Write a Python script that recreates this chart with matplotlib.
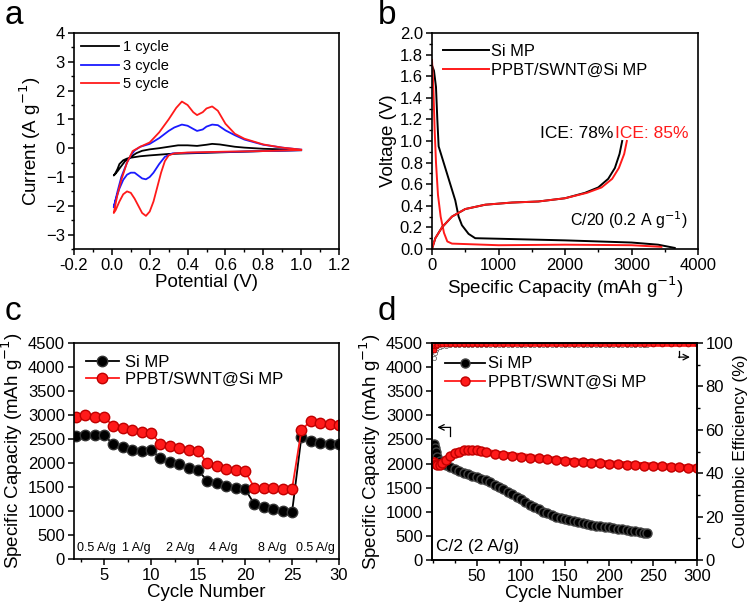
import matplotlib
matplotlib.use('Agg')
import matplotlib.pyplot as plt
from matplotlib.ticker import MultipleLocator

plt.rcParams['font.family'] = ['Liberation Sans', 'DejaVu Sans']
plt.rcParams['axes.linewidth'] = 1.2
plt.rcParams['xtick.major.width'] = 1.1
plt.rcParams['ytick.major.width'] = 1.1
plt.rcParams['xtick.minor.width'] = 1.0
plt.rcParams['ytick.minor.width'] = 1.0
plt.rcParams['xtick.major.size'] = 4.5
plt.rcParams['ytick.major.size'] = 4.5
plt.rcParams['xtick.minor.size'] = 2.5
plt.rcParams['ytick.minor.size'] = 2.5

# ---------- (a) CV curves: potential (V) / current (A g-1), closed loops ----------
cv1_v = [1.0, 0.8, 0.6, 0.4, 0.3, 0.2, 0.15, 0.1, 0.08, 0.06, 0.04, 0.03, 0.02, 0.01,
         0.02, 0.03, 0.05, 0.07, 0.1, 0.13, 0.16, 0.2, 0.25, 0.3, 0.35, 0.4, 0.45, 0.5,
         0.53, 0.57, 0.6, 0.65, 0.7, 0.8, 0.9, 1.0]
cv1_i = [-0.07, -0.1, -0.14, -0.18, -0.2, -0.25, -0.28, -0.33, -0.36, -0.42, -0.55, -0.72, -0.85, -0.95,
         -0.88, -0.8, -0.62, -0.45, -0.3, -0.17, -0.09, -0.04, 0.0, 0.05, 0.1, 0.1, 0.08, 0.12,
         0.15, 0.13, 0.1, 0.05, 0.02, -0.02, -0.04, -0.06]

cv3_v = [1.0, 0.8, 0.6, 0.4, 0.32, 0.28, 0.25, 0.22, 0.2, 0.18, 0.16, 0.14, 0.12, 0.1, 0.08,
         0.06, 0.04, 0.02, 0.01, 0.03, 0.05, 0.08, 0.1, 0.12, 0.15, 0.2, 0.25, 0.3, 0.33,
         0.37, 0.4, 0.43, 0.45, 0.48, 0.5, 0.53, 0.56, 0.6, 0.65, 0.7, 0.8, 0.9, 1.0]
cv3_i = [-0.07, -0.1, -0.13, -0.16, -0.18, -0.3, -0.55, -0.85, -1.0, -1.08, -1.05, -0.95, -0.85, -0.85, -0.92,
         -1.1, -1.4, -1.8, -2.05, -1.5, -1.0, -0.5, -0.25, -0.08, 0.05, 0.15, 0.35, 0.6, 0.72,
         0.82, 0.78, 0.67, 0.6, 0.65, 0.75, 0.82, 0.8, 0.62, 0.45, 0.3, 0.12, 0.02, -0.05]

cv5_v = [1.0, 0.8, 0.6, 0.4, 0.33, 0.3, 0.28, 0.26, 0.24, 0.22, 0.2, 0.18, 0.16, 0.14, 0.12,
         0.1, 0.08, 0.06, 0.04, 0.02, 0.01, 0.03, 0.05, 0.08, 0.11, 0.15, 0.2, 0.25, 0.3,
         0.34, 0.37, 0.4, 0.43, 0.45, 0.48, 0.5, 0.53, 0.56, 0.6, 0.65, 0.7, 0.8, 0.9, 1.0]
cv5_i = [-0.06, -0.1, -0.12, -0.15, -0.18, -0.25, -0.45, -0.85, -1.35, -1.85, -2.2, -2.35, -2.25, -2.0, -1.75,
         -1.55, -1.5, -1.6, -1.85, -2.15, -2.25, -1.6, -1.1, -0.5, -0.1, 0.05, 0.2, 0.55, 1.0,
         1.4, 1.62, 1.5, 1.25, 1.15, 1.25, 1.38, 1.45, 1.3, 0.85, 0.5, 0.33, 0.13, 0.02, -0.05]

# ---------- (b) first charge/discharge profiles ----------
si_dis_c = [0, 30, 60, 80, 100, 150, 250, 350, 400, 450, 550, 650, 1000, 2000, 3000, 3400, 3650]
si_dis_v = [1.7, 1.65, 1.5, 1.2, 0.95, 0.85, 0.65, 0.45, 0.3, 0.22, 0.14, 0.1, 0.095, 0.08, 0.06, 0.04, 0.01]
si_chg_c = [0, 50, 150, 300, 500, 800, 1200, 1600, 2000, 2300, 2500, 2650, 2750, 2820, 2860]
si_chg_v = [0.0, 0.1, 0.2, 0.3, 0.37, 0.41, 0.43, 0.44, 0.47, 0.52, 0.57, 0.65, 0.75, 0.88, 1.0]
pp_dis_c = [0, 20, 40, 60, 90, 130, 180, 230, 300, 1000, 2000, 3000, 3450]
pp_dis_v = [1.75, 1.5, 1.1, 0.8, 0.5, 0.3, 0.15, 0.07, 0.05, 0.035, 0.04, 0.035, 0.02]
pp_chg_c = [0, 50, 150, 300, 500, 800, 1200, 1600, 2000, 2330, 2550, 2710, 2810, 2890, 2930]
pp_chg_v = [0.0, 0.1, 0.2, 0.3, 0.37, 0.41, 0.43, 0.44, 0.47, 0.52, 0.57, 0.65, 0.75, 0.88, 1.0]

# ---------- (c) rate capability ----------
rate_cycles = list(range(2, 31))
rate_si = [2560, 2575, 2575, 2575, 2390, 2335, 2280, 2255, 2280,
           2095, 2025, 1975, 1900, 1850, 1625, 1575, 1525, 1485, 1455,
           1145, 1090, 1040, 1005, 970, 2545, 2460, 2420, 2405, 2390]
rate_pp = [2960, 3010, 2960, 2960, 2765, 2720, 2685, 2650, 2635,
           2390, 2360, 2315, 2280, 2255, 1990, 1935, 1885, 1850, 1830,
           1485, 1470, 1470, 1460, 1455, 2685, 2880, 2835, 2810, 2790]
rate_labels = ['0.5 A/g', '1 A/g', '2 A/g', '4 A/g', '8 A/g', '0.5 A/g']
rate_label_x = [4.2, 8.4, 13.1, 17.7, 22.9, 27.5]

# ---------- (d) long cycling at C/2 ----------
cyc_si = [1, 2, 3, 5, 8, 10, 15, 20, 25, 30, 35, 40, 45, 50, 55, 60, 65, 70, 75, 80, 85, 90, 95,
          100, 105, 110, 115, 120, 125, 130, 135, 140, 145, 150, 155, 160, 165, 170, 175, 180,
          185, 190, 195, 200, 205, 210, 215, 220, 225, 230, 235, 240, 243]
cap_si = [2400, 2330, 2250, 2130, 2050, 2020, 1970, 1930, 1890, 1850, 1810, 1775, 1750, 1730, 1690,
          1650, 1610, 1565, 1520, 1470, 1420, 1370, 1315, 1260, 1205, 1150, 1100, 1050, 1005,
          965, 930, 900, 870, 845, 820, 800, 780, 760, 745, 730, 715, 700, 688, 675, 660, 648,
          635, 622, 610, 595, 580, 565, 555]
cyc_pp = [1, 3, 5, 8, 10, 15, 20, 25, 30, 35, 40, 45, 50, 55, 60, 70, 80, 90, 100, 110, 120,
          130, 140, 150, 160, 170, 180, 190, 200, 210, 220, 230, 240, 250, 260, 270, 280, 290, 300]
cap_pp = [2040, 1990, 1960, 1980, 2010, 2080, 2150, 2210, 2250, 2275, 2285, 2285, 2275, 2260,
          2235, 2205, 2180, 2160, 2145, 2125, 2105, 2090, 2070, 2055, 2040, 2028, 2015, 2005,
          1995, 1985, 1975, 1965, 1958, 1950, 1940, 1930, 1920, 1912, 1905]
ce_si = [93.0, 95.5, 96.8, 97.8, 98.3, 98.6, 98.8, 98.9, 99.0, 99.0, 99.1, 99.1, 99.1, 99.1, 99.2,
         99.2, 99.2, 99.2, 99.2, 99.2, 99.2, 99.2, 99.2, 99.2, 99.2, 99.2, 99.2, 99.2, 99.2,
         99.2, 99.2, 99.2, 99.2, 99.2, 99.2, 99.2, 99.2, 99.2, 99.2, 99.2, 99.2, 99.2, 99.2,
         99.2, 99.2, 99.2, 99.2, 99.2, 99.2, 99.2, 99.2, 99.2, 99.2]
ce_pp = [97.0, 98.8, 99.2, 99.4, 99.5, 99.5, 99.5, 99.5, 99.5, 99.5, 99.5, 99.5, 99.5, 99.5,
         99.5, 99.5, 99.5, 99.5, 99.5, 99.5, 99.5, 99.5, 99.5, 99.5, 99.5, 99.5, 99.5, 99.5,
         99.5, 99.5, 99.5, 99.5, 99.5, 99.5, 99.5, 99.5, 99.5, 99.5, 99.5]

RED = '#ff1a1a'
BLUE = '#1a1aff'
TICK_FS = 12
LABEL_FS = 13.5

fig = plt.figure(figsize=(7.48, 6.05), dpi=100)
W, H = 748.0, 605.0


def box(l, t, r, b):
    return [l / W, 1 - b / H, (r - l) / W, (b - t) / H]


def style(ax):
    ax.tick_params(which='both', direction='out', top=False, right=False, labelsize=TICK_FS, pad=2)


# ---------------- a ----------------
ax = fig.add_axes(box(74, 33, 339, 249))
style(ax)
ax.plot(cv1_v, cv1_i, color='black', lw=1.3, label='1 cycle')
ax.plot(cv3_v, cv3_i, color=BLUE, lw=1.3, label='3 cycle')
ax.plot(cv5_v, cv5_i, color=RED, lw=1.3, label='5 cycle')
ax.xaxis.set_major_locator(MultipleLocator(0.2))
ax.xaxis.set_minor_locator(MultipleLocator(0.1))
ax.yaxis.set_major_locator(MultipleLocator(1))
ax.yaxis.set_minor_locator(MultipleLocator(0.5))
ax.xaxis.set_major_formatter(lambda v, p: f'{v:.1f}')
ax.set_xlim(-0.2, 1.2)
ax.set_ylim(-3.5, 4)
ax.set_xlabel('Potential (V)', fontsize=LABEL_FS, labelpad=1)
ax.set_ylabel('Current (A g$^{-1}$)', fontsize=LABEL_FS, labelpad=2)
ax.legend(loc='upper left', frameon=False, fontsize=10.5, handlelength=2.6,
          handletextpad=0.25, labelspacing=0.3, borderaxespad=0.3, borderpad=0.2)
fig.text(5 / W, 1 - 24 / H, 'a', fontsize=24)

# ---------------- b ----------------
ax = fig.add_axes(box(432, 33, 698, 249))
style(ax)
ax.plot(si_dis_c, si_dis_v, color='black', lw=1.4, label='Si MP')
ax.plot(pp_dis_c, pp_dis_v, color=RED, lw=1.4, label='PPBT/SWNT@Si MP')
ax.plot(si_chg_c, si_chg_v, color='black', lw=1.4)
ax.plot(pp_chg_c, pp_chg_v, color=RED, lw=1.4)
ax.xaxis.set_major_locator(MultipleLocator(1000))
ax.xaxis.set_minor_locator(MultipleLocator(500))
ax.yaxis.set_major_locator(MultipleLocator(0.2))
ax.yaxis.set_minor_locator(MultipleLocator(0.1))
ax.yaxis.set_major_formatter(lambda v, p: f'{v:.1f}')
ax.set_xlim(0, 4000)
ax.set_ylim(0, 2.0)
ax.set_xlabel('Specific Capacity (mAh g$^{-1}$)', fontsize=LABEL_FS, labelpad=1)
ax.set_ylabel('Voltage (V)', fontsize=LABEL_FS, labelpad=2)
ax.legend(loc='upper left', frameon=False, fontsize=11.8, handlelength=2.8,
          handletextpad=0.15, labelspacing=0.25, borderaxespad=0.45, borderpad=0.2)
ax.text(2725, 1.07, 'ICE: 78%', color='black', fontsize=12.5, ha='right', va='center')
ax.text(2745, 1.07, 'ICE: 85%', color=RED, fontsize=12.5, ha='left', va='center')
ax.text(3850, 0.27, 'C/20 (0.2 A g$^{-1}$)', fontsize=11.5, ha='right', va='center')
fig.text(378 / W, 1 - 24 / H, 'b', fontsize=24)

# ---------------- c ----------------
ax = fig.add_axes(box(74, 343, 339, 559))
style(ax)
ax.plot(rate_cycles, rate_si, color='black', lw=1.3, marker='o', ms=7.5,
        mfc='black', mec='#333333', label='Si MP')
ax.plot(rate_cycles, rate_pp, color=RED, lw=1.3, marker='o', ms=7.5,
        mfc=RED, mec='#c00000', label='PPBT/SWNT@Si MP')
for lab, xx in zip(rate_labels, rate_label_x):
    ax.text(xx, 230, lab, fontsize=9, ha='center', va='center')
ax.set_xlim(1.8, 30)
ax.set_ylim(0, 4500)
ax.xaxis.set_major_locator(MultipleLocator(5))
ax.xaxis.set_minor_locator(MultipleLocator(2.5))
ax.yaxis.set_major_locator(MultipleLocator(500))
ax.set_xlabel('Cycle Number', fontsize=LABEL_FS, labelpad=1)
ax.set_ylabel('Specific Capacity (mAh g$^{-1}$)', fontsize=LABEL_FS, labelpad=2)
ax.legend(loc='upper left', frameon=False, fontsize=12, handlelength=2.0,
          handletextpad=0.35, labelspacing=0.15, borderaxespad=0.5, borderpad=0.2)
fig.text(5 / W, 1 - 320 / H, 'c', fontsize=24)

# ---------------- d ----------------
ax = fig.add_axes(box(432, 343, 697, 560))
style(ax)
ax2 = ax.twinx()
ax2.tick_params(which='both', direction='out', labelsize=TICK_FS, pad=1.5)
ax2.plot(cyc_si, ce_si, color='black', lw=0, marker='o', ms=3, mfc='white', mec='#555555', mew=0.5)
ax2.plot(cyc_pp, ce_pp, color=RED, lw=4, marker='o', ms=3.5, mfc=RED, mec='#b00000', mew=0.6)
ax2.set_ylim(0, 100)
ax2.yaxis.set_major_locator(MultipleLocator(20))
ax2.yaxis.set_minor_locator(MultipleLocator(10))
ax2.set_ylabel('Coulombic Efficiency (%)', fontsize=12.5, labelpad=0)

ax.plot(cyc_si, cap_si, color='black', lw=5, marker='o', ms=6.5,
        mfc='black', mec='#444444', label='Si MP')
ax.plot(cyc_pp, cap_pp, color=RED, lw=5, marker='o', ms=6.5,
        mfc=RED, mec='#c00000', label='PPBT/SWNT@Si MP')
ax.set_zorder(ax2.get_zorder() + 1)
ax.patch.set_visible(False)
ax.set_xlim(-1, 300)
ax.set_ylim(0, 4500)
ax.set_xticks([50, 100, 150, 200, 250, 300])
ax.xaxis.set_minor_locator(MultipleLocator(25))
ax.yaxis.set_major_locator(MultipleLocator(500))
ax.set_xlabel('Cycle Number', fontsize=LABEL_FS, labelpad=1)
ax.set_ylabel('Specific Capacity (mAh g$^{-1}$)', fontsize=LABEL_FS, labelpad=2)
leg = ax.legend(loc='upper left', frameon=False, fontsize=12, handlelength=2.4,
                handletextpad=0.15, labelspacing=0.2, borderaxespad=0.6, borderpad=0.2)
for h in leg.get_lines():
    h.set_linewidth(1.3)
ax.text(4, 280, 'C/2 (2 A/g)', fontsize=12.5, ha='left', va='center')
# axis pointer arrows
ax.annotate('', xy=(5, 2750), xytext=(20, 2750),
            arrowprops=dict(arrowstyle='->', lw=0.9, color='black', shrinkA=0, shrinkB=0))
ax.plot([20, 20], [2750, 2580], color='black', lw=0.9)
ax2.plot([279, 279], [96.3, 93.5], color='black', lw=0.9)
ax2.annotate('', xy=(292, 93.5), xytext=(279, 93.5),
             arrowprops=dict(arrowstyle='->', lw=0.9, color='black', shrinkA=0, shrinkB=0))
fig.text(378 / W, 1 - 320 / H, 'd', fontsize=24)

fig.savefig('out.png', dpi=100)
